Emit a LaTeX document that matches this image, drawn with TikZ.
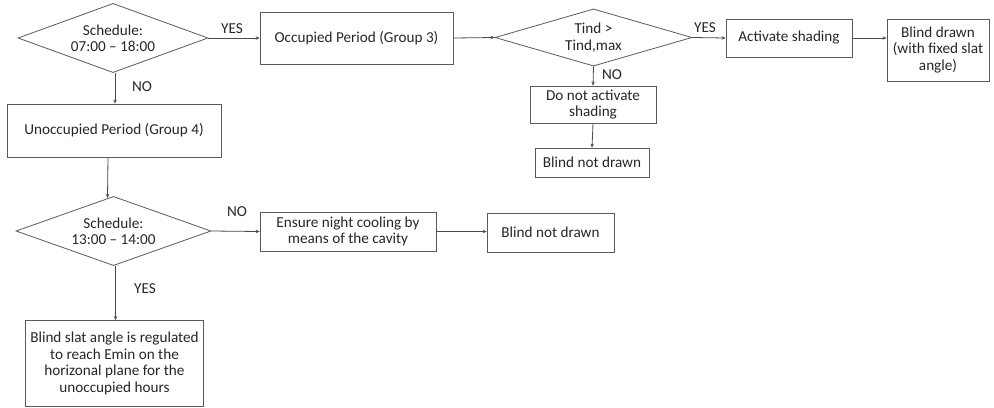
\documentclass[tikz,border=0pt]{standalone}
\usepackage{fontspec}
\setmainfont{Carlito}
\usetikzlibrary{shapes.geometric,arrows.meta}
\definecolor{edge}{HTML}{5A5A5A}
\definecolor{wire}{HTML}{4A4A4A}
\definecolor{txt}{HTML}{262626}
\begin{document}
\begin{tikzpicture}[x=0.75pt,y=-0.75pt,
  every node/.style={font=\fontsize{11.4}{12.3}\selectfont, text=txt},
  box/.style={draw=edge, line width=0.6pt, align=center, inner sep=0pt},
  dec/.style={draw=edge, line width=0.6pt, shape=diamond, align=center, inner sep=0pt, aspect=2},
  sz/.style 2 args={minimum width=#1*0.75pt, minimum height=#2*0.75pt},
  arr/.style={draw=wire, line width=0.6pt, -{Stealth[length=3pt,width=2.6pt]}},
  lbl/.style={inner sep=0pt}]
\useasboundingbox (0,0) rectangle (994,407);

% top row: occupied branch
\node[dec, sz={190}{61}] (d1) at (113,38) {Schedule:\\07:00 – 18:00};
\node[box, sz={193}{52}] (occ) at (356.5,38) {Occupied Period (Group 3)};
\node[dec, sz={197}{45}] (d2) at (593.5,37.5) {Tind >\\Tind,max};
\node[box, sz={126}{38}] (act) at (789,38) {Activate shading};
\node[box, sz={102}{62}] (bd) at (938,50) {Blind drawn\\(with fixed slat\\angle)};
\node[box, sz={126}{37}] (dna) at (593,104.5) {Do not activate\\shading};
\node[box, sz={114}{29}] (bnd1) at (592,162.5) {Blind not drawn};

% unoccupied branch
\node[box, sz={214}{53}] (unocc) at (114,130.5) {Unoccupied Period (Group 4)};
\node[dec, sz={195}{61}] (d3) at (113.5,231) {Schedule:\\13:00 – 14:00};
\node[box, sz={176}{39}] (ens) at (348,231.5) {Ensure night cooling by\\means of the cavity};
\node[box, sz={127}{39}] (bnd2) at (550.5,232.5) {Blind not drawn};
\node[box, sz={178}{86}] (reg) at (114.5,363.5) {Blind slat angle is regulated\\to reach Emin on the\\horizonal plane for the\\unoccupied hours};

% connectors
\draw[arr] (d1.east) -- (occ.west);
\draw[arr] (occ.east) -- (d2.west);
\draw[arr] (d2.east) -- (act.west);
\draw[arr] (act.east) -- (act.east -| bd.west);
\draw[arr] (d2.south) -- (dna.north);
\draw[arr] (dna.south) -- (bnd1.north);
\draw[arr] ([xshift=1.5]d1.south) -- ([xshift=1.5]d1.south |- unocc.north);
\draw[arr] ([xshift=-4.5]unocc.south) -- ([xshift=-4.5,yshift=-1.5]d3.north);
\draw[arr] (d3.east) -- (ens.west);
\draw[arr] (ens.east) -- (ens.east -| bnd2.west);
\draw[arr] ([xshift=1.5]d3.south) -- ([xshift=1.5]d3.south |- reg.north);

% branch labels
\node[lbl] (y1) at (232,29) {YES};
\node[lbl] (n1) at (142,87) {NO};
\node[lbl] (y2) at (705,28) {YES};
\node[lbl] (n2) at (612,75) {NO};
\node[lbl] (n3) at (237,212) {NO};
\node[lbl] (y3) at (145,289) {YES};
\end{tikzpicture}
\end{document}
